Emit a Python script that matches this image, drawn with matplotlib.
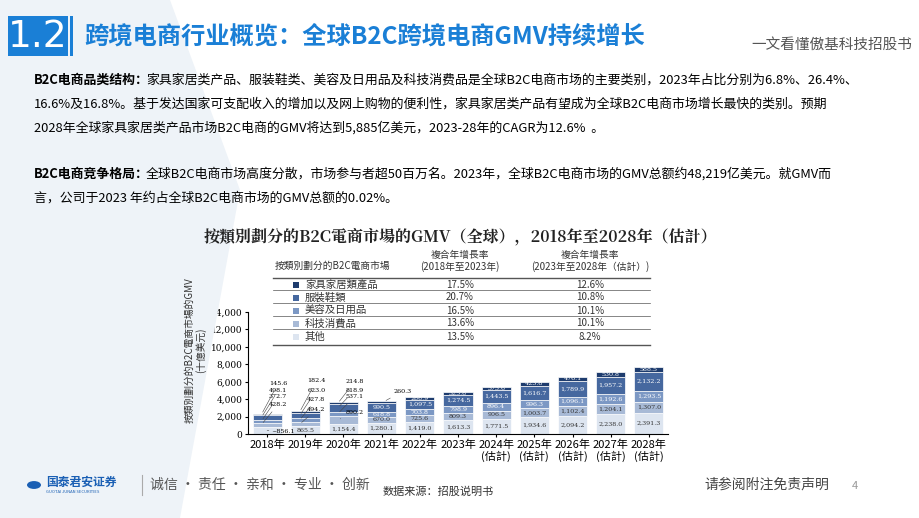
import matplotlib
matplotlib.use("Agg")
import matplotlib.pyplot as plt
import numpy as np
from matplotlib.patches import Rectangle, Polygon, Circle

plt.rcParams['font.family'] = ['Noto Sans CJK SC', 'DejaVu Sans']

years = ["2018年", "2019年", "2020年", "2021年", "2022年", "2023年",
         "2024年\n(估計)", "2025年\n(估計)", "2026年\n(估計)", "2027年\n(估計)", "2028年\n(估計)"]
categories = ["其他", "科技消費品", "美容及日用品", "服裝鞋類", "家具家居類產品"]
other = [856.1, 865.5, 1154.4, 1280.1, 1419.0, 1613.3, 1771.5, 1934.6, 2094.2, 2238.0, 2391.3]
tech = [428.2, 494.2, 890.2, 670.0, 725.6, 809.3, 906.5, 1003.7, 1102.4, 1204.1, 1307.0]
beauty = [372.7, 427.8, 537.1, 618.8, 703.8, 798.9, 896.4, 996.3, 1096.1, 1192.6, 1293.5]
apparel = [498.1, 623.0, 818.9, 990.5, 1097.5, 1274.5, 1443.5, 1616.7, 1789.9, 1957.2, 2132.2]
furniture = [145.6, 182.4, 214.8, 260.3, 288.9, 325.8, 373.6, 423.8, 476.1, 530.8, 588.5]
cagr_18_23 = ["13.5%", "13.6%", "16.5%", "20.7%", "17.5%"]
cagr_23_28 = ["8.2%", "10.1%", "10.1%", "10.8%", "12.6%"]
colors = ["#dde5f0", "#a8bad6", "#7c98c4", "#46689f", "#1e3c6e"]

# layout: label heights (in axis units) for leader-line labels of the first three years
leader_y = [[300, 3400, 4300, 5000, 5800],
            [None, 2800, 4000, 5000, 6100],
            [None, 2500, 4300, 5000, 6000]]

W, H = 920, 518
fig = plt.figure(figsize=(9.2, 5.18), dpi=100)
fig.patch.set_facecolor("white")

def P(x, y):
    return x / W, 1 - y / H

def T(x, y, s, **kw):
    fig.text(*P(x, y), s, **kw)

fig.patches.append(Polygon([P(0, 0), P(170, 0), P(240, 190), P(180, 518), P(0, 518)], closed=True,
                           transform=fig.transFigure, facecolor="#eef3f8", edgecolor="none", zorder=0))
fig.patches.append(Rectangle(P(8, 56), 60 / W, 40 / H, transform=fig.transFigure,
                             facecolor="#1a7fd6", edgecolor="none", zorder=1))
fig.patches.append(Rectangle(P(70, 56), 3 / W, 40 / H, transform=fig.transFigure,
                             facecolor="#1a7fd6", edgecolor="none", zorder=1))
T(38, 37, "1.2", color="white", fontsize=27, ha="center", va="center", family="DejaVu Sans", zorder=2)
T(84, 37, "跨境电商行业概览：全球B2C跨境电商GMV持续增长", color="#1a7fd6", fontsize=17.5,
  fontweight="bold", va="center")
T(912, 45, "一文看懂傲基科技招股书", color="#555555", fontsize=10.5, ha="right", va="center")

fs = 9.3
T(34, 80, "B2C电商品类结构：", fontsize=fs, fontweight="bold", va="center")
T(146, 80, "家具家居类产品、服装鞋类、美容及日用品及科技消费品是全球B2C电商市场的主要类别，2023年占比分别为6.8%、26.4%、",
  fontsize=fs, va="center")
T(34, 104, "16.6%及16.8%。基于发达国家可支配收入的增加以及网上购物的便利性，家具家居类产品有望成为全球B2C电商市场增长最快的类别。预期",
  fontsize=fs, va="center")
T(34, 128, "2028年全球家具家居类产品市场B2C电商的GMV将达到5,885亿美元，2023-28年的CAGR为12.6%  。", fontsize=fs, va="center")
T(34, 174, "B2C电商竞争格局：", fontsize=fs, fontweight="bold", va="center")
T(146, 174, "全球B2C电商市场高度分散，市场参与者超50百万名。2023年，全球B2C电商市场的GMV总额约48,219亿美元。就GMV而",
  fontsize=fs, va="center")
T(34, 198, "言，公司于2023 年约占全球B2C电商市场的GMV总额的0.02%。", fontsize=fs, va="center")

T(460, 237, "按類別劃分的B2C電商市場的GMV（全球），2018年至2028年（估計）", fontsize=11.5,
  fontweight="bold", ha="center", va="center", color="#222222", family=["Noto Serif CJK SC", "Noto Sans CJK SC"])
T(275, 266, "按類別劃分的B2C電商市場", fontsize=7, style="italic", va="center", color="#333333")
T(460, 261, "複合年增長率\n(2018年至2023年)", fontsize=7, style="italic", ha="center", va="center", color="#333333",
  linespacing=1.1)
T(590, 261, "複合年增長率\n(2023年至2028年（估計）)", fontsize=7, style="italic", ha="center", va="center",
  color="#333333", linespacing=1.1)
for yy, lw in [(278, 1.0), (290, 0.5), (303, 0.5), (316, 0.5), (329, 0.5), (345, 1.0)]:
    fig.add_artist(plt.Line2D([273 / W, 650 / W], [1 - yy / H] * 2, color="#555555", lw=lw))
for i in range(5):
    yy = 284.5 + 13 * (4 - i)
    fig.patches.append(Rectangle(P(293, yy + 3), 6 / W, 6 / H, transform=fig.transFigure,
                                 facecolor=colors[i], edgecolor="none"))
    T(305, yy, categories[i], fontsize=7.5, va="center", color="#333333")
    T(460, yy, cagr_18_23[i], fontsize=7, ha="center", va="center", color="#333333")
    T(590, yy, cagr_23_28[i], fontsize=7, ha="center", va="center", color="#333333")

ax = fig.add_axes([248 / W, 84 / H, 420 / W, 122 / H])
series = [other, tech, beauty, apparel, furniture]
x = np.arange(len(years))
bottom = np.zeros(len(years))
for i, s in enumerate(series):
    s = np.array(s)
    ax.bar(x, s, 0.76, bottom=bottom, color=colors[i], edgecolor="white", linewidth=0.5)
    for j in range(3, len(years)):
        if j == 3 and i == 4:
            continue
        ax.text(x[j], bottom[j] + s[j] / 2, f"{s[j]:,.1f}", ha="center", va="center", fontsize=4.6,
                color="#333333" if i < 2 else "white", family="DejaVu Serif")
    bottom += s
ax.annotate(f"{furniture[3]:,.1f}", (x[3] + 0.05, bottom[3] - furniture[3] / 2),
            xytext=(x[3] + 0.3, 4600), fontsize=4.6, va="bottom", family="DejaVu Serif",
            arrowprops=dict(arrowstyle="-", lw=0.4, color="#444"))
for j in range(3):
    b = 0
    mids = []
    for s in series:
        mids.append(b + s[j] / 2)
        b += s[j]
    for i, s in enumerate(series):
        ly = leader_y[j][i]
        if ly is None:
            ax.text(x[j], mids[i], f"{s[j]:,.1f}", ha="center", va="center", fontsize=4.6,
                    family="DejaVu Serif", color="#333")
        elif i == 0:
            ax.annotate(f"~{s[j]:,.1f}", (x[j], mids[i]), xytext=(x[j] + 0.12, ly), fontsize=4.6,
                        va="center", family="DejaVu Serif",
                        arrowprops=dict(arrowstyle="-", lw=0.4, color="#444"))
        else:
            ax.annotate(f"{s[j]:,.1f}", (x[j] - 0.15, mids[i]), xytext=(x[j] + 0.05, ly),
                        fontsize=4.6, va="center", family="DejaVu Serif",
                        arrowprops=dict(arrowstyle="-", lw=0.4, color="#444"))
ax.set_ylim(0, 14000)
ax.set_xlim(-0.5, len(years) - 0.5)
ax.set_yticks(range(0, 14001, 2000))
ax.set_yticklabels([f"{v:,}" for v in range(0, 14001, 2000)], fontsize=6.5, family="DejaVu Serif")
ax.set_xticks(x)
ax.set_xticklabels(years, fontsize=8, linespacing=1.1)
ax.tick_params(length=2, pad=2)
for sp in ["top", "right"]:
    ax.spines[sp].set_visible(False)
ax.patch.set_alpha(0)
T(195, 350, "按類別劃分的B2C電商市場的GMV\n(十億美元)", fontsize=7, rotation=90, ha="center", va="center",
  color="#333333", linespacing=1.1)

fig.add_artist(Circle(P(34, 485), 7 / W, transform=fig.transFigure, facecolor="#1a5fb4", edgecolor="none"))
T(46, 482, "国泰君安证券", fontsize=8.5, fontweight="bold", color="#1a5fb4", va="center")
T(46, 492, "GUOTAI JUNAN SECURITIES", fontsize=3, color="#1a5fb4", va="center")
fig.add_artist(plt.Line2D([142 / W, 142 / W], [1 - 475 / H, 1 - 495 / H], color="#aaaaaa", lw=0.8))
T(150, 485, "诚信 · 责任 · 亲和 · 专业 · 创新", fontsize=10, color="#555555", va="center")
T(383, 492, "数据来源：招股说明书", fontsize=8, color="#333333", va="center")
T(829, 485, "请参阅附注免责声明", fontsize=10, color="#444444", va="center", ha="right")
T(852, 486, "4", fontsize=8, color="#999999", va="center")

fig.savefig("out.png", dpi=100)
